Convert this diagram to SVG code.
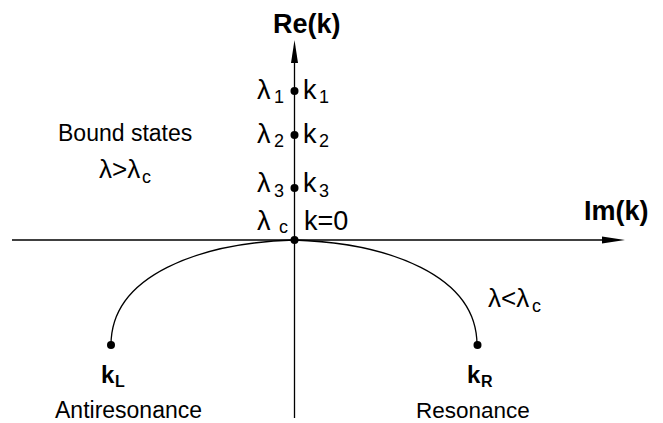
<svg xmlns="http://www.w3.org/2000/svg" width="663" height="423" viewBox="0 0 663 423">
<style>
.ln{stroke:#000;stroke-width:1.3;fill:none}
.t{font-family:"Liberation Sans",Arial,sans-serif;fill:#000}
.b{font-weight:bold}
.g{font-size:27px}
.s{font-size:18px}
.dot{fill:#000}
</style>
<rect width="663" height="423" fill="#fff"/>
<g id="axes">
<line class="ln" x1="12" y1="240" x2="605" y2="240"/>
<polygon points="625,240 602,236.5 602,243.5" fill="#000"/>
<line class="ln" x1="294.5" y1="418" x2="294.5" y2="60"/>
<polygon points="294.5,40 291,63 298,63" fill="#000"/>
<text class="t b" x="273" y="33" font-size="27">Re(k)</text>
<text class="t b" x="584" y="220" font-size="27">Im(k)</text>
</g>
<g id="connectors">
<path class="ln" d="M294,240 C200,243 111,275 111,345"/>
<path class="ln" d="M294,240 C388,243 477,275 477,345"/>
</g>
<g id="k1">
<circle class="dot" cx="294.5" cy="91" r="4"/>
<text class="t g" x="257" y="99" font-size="28">λ</text><text class="t s" x="274" y="103">1</text>
<text class="t g" x="303" y="99">k</text><text class="t s" x="319" y="103">1</text>
</g>
<g id="k2">
<circle class="dot" cx="294.5" cy="135" r="4"/>
<text class="t g" x="257" y="143" font-size="28">λ</text><text class="t s" x="274" y="147">2</text>
<text class="t g" x="303" y="143">k</text><text class="t s" x="319" y="147">2</text>
</g>
<g id="k3">
<circle class="dot" cx="294.5" cy="188" r="4"/>
<text class="t g" x="257" y="192" font-size="28">λ</text><text class="t s" x="274" y="197">3</text>
<text class="t g" x="303" y="192">k</text><text class="t s" x="319" y="197">3</text>
</g>
<g id="k0">
<circle class="dot" cx="294.5" cy="240" r="4"/>
<text class="t g" x="257" y="230" font-size="28">λ</text><text class="t s" x="279" y="233">c</text>
<text class="t g" x="304" y="230">k=0</text>
</g>
<g id="bound">
<text class="t" x="58" y="141" font-size="23">Bound states</text>
<text class="t" x="99" y="178" font-size="26">λ&gt;λ</text><text class="t s" x="142" y="183">c</text>
</g>
<g id="less">
<text class="t" x="488" y="307" font-size="26">λ&lt;λ</text><text class="t s" x="532" y="312">c</text>
</g>
<g id="kL">
<circle class="dot" cx="111" cy="345" r="4"/>
<text class="t b" x="101" y="383" font-size="24">k</text><text class="t b" x="115" y="387" font-size="16">L</text>
<text class="t" x="55" y="418" font-size="23">Antiresonance</text>
</g>
<g id="kR">
<circle class="dot" cx="477.5" cy="345" r="4"/>
<text class="t b" x="467" y="383" font-size="24">k</text><text class="t b" x="481" y="387" font-size="16">R</text>
<text class="t" x="416" y="418" font-size="22.5">Resonance</text>
</g>
</svg>
